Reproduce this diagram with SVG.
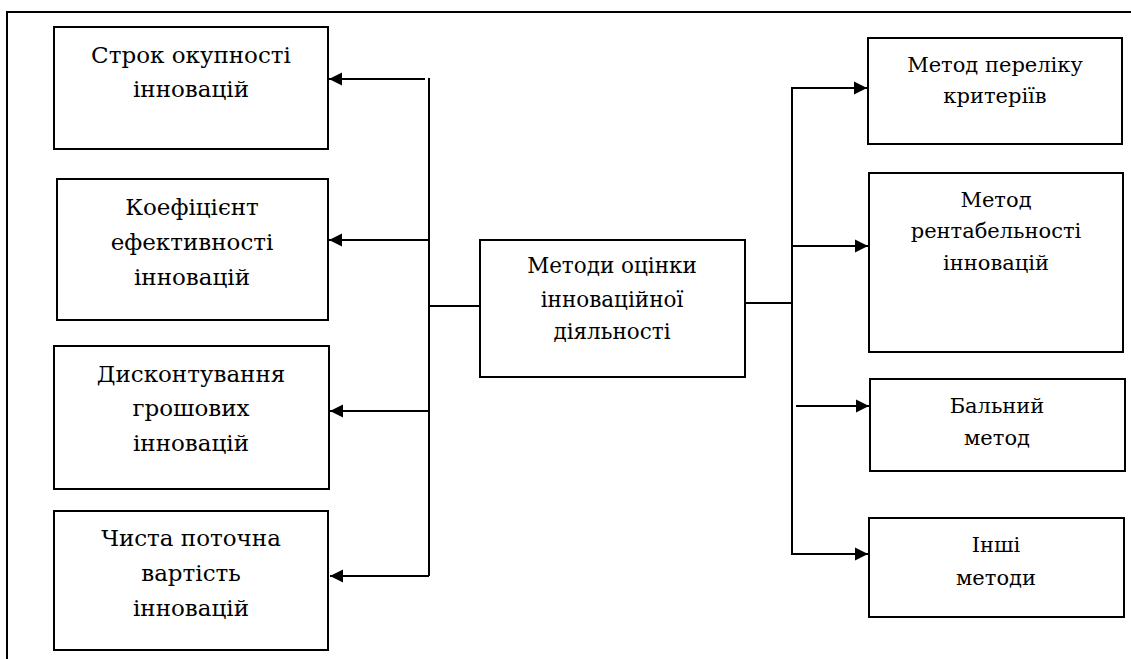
<svg xmlns="http://www.w3.org/2000/svg" width="1131" height="659" viewBox="0 0 1131 659">
<style>
.box{fill:#fff;stroke:#000;stroke-width:2}
.ln{fill:none;stroke:#000;stroke-width:2}
text{font-family:'DejaVu Serif',serif;fill:#000;text-anchor:middle}
.tl{font-size:23px}
.tr{font-size:21px}
.tc{font-size:21.5px}
</style>
<defs>
<marker id="ah" markerUnits="userSpaceOnUse" markerWidth="14" markerHeight="14" viewBox="0 0 14 14" refX="13" refY="7" orient="auto">
<path d="M0,0.5 L13,7 L0,13.5 Z" fill="#000"/>
</marker>
</defs>
<rect width="1131" height="659" fill="#fff"/>
<g id="frame"><path class="ln" d="M7,659 V12 H1131"/></g>
<g id="connectors">
<path class="ln" d="M429,78 V576"/>
<path class="ln" d="M425,79 H329" marker-end="url(#ah)"/>
<path class="ln" d="M429,240 H329" marker-end="url(#ah)"/>
<path class="ln" d="M429,411 H330" marker-end="url(#ah)"/>
<path class="ln" d="M429,576 H330" marker-end="url(#ah)"/>
<path class="ln" d="M429,306 H480"/>
<path class="ln" d="M745,303 H792"/>
<path class="ln" d="M792,87 V554"/>
<path class="ln" d="M793,88 H867" marker-end="url(#ah)"/>
<path class="ln" d="M792,246 H868" marker-end="url(#ah)"/>
<path class="ln" d="M796,406 H869" marker-end="url(#ah)"/>
<path class="ln" d="M791,554 H868" marker-end="url(#ah)"/>
</g>
<g id="n1"><rect class="box" x="54" y="27" width="274" height="122"/><text class="tl" x="191" y="63">Строк окупності</text><text class="tl" x="191" y="97">інновацій</text></g>
<g id="n2"><rect class="box" x="57" y="179" width="271" height="141"/><text class="tl" x="192" y="215">Коефіцієнт</text><text class="tl" x="192" y="250">ефективності</text><text class="tl" x="192" y="285">інновацій</text></g>
<g id="n3"><rect class="box" x="54" y="346" width="275" height="143"/><text class="tl" x="191" y="382">Дисконтування</text><text class="tl" x="191" y="416">грошових</text><text class="tl" x="191" y="451">інновацій</text></g>
<g id="n4"><rect class="box" x="54" y="511" width="274" height="139"/><text class="tl" x="191" y="546">Чиста поточна</text><text class="tl" x="191" y="581">вартість</text><text class="tl" x="191" y="616">інновацій</text></g>
<g id="center"><rect class="box" x="480" y="240" width="265" height="137"/><text class="tc" x="612" y="273">Методи оцінки</text><text class="tc" x="612" y="307">інноваційної</text><text class="tc" x="612" y="339">діяльності</text></g>
<g id="r1"><rect class="box" x="868" y="38" width="254" height="106"/><text class="tr" x="995" y="72">Метод переліку</text><text class="tr" x="995" y="103">критеріїв</text></g>
<g id="r2"><rect class="box" x="869" y="173" width="254" height="179"/><text class="tr" x="996" y="207">Метод</text><text class="tr" x="996" y="238">рентабельності</text><text class="tr" x="996" y="270">інновацій</text></g>
<g id="r3"><rect class="box" x="870" y="379" width="255" height="92"/><text class="tr" x="997" y="413">Бальний</text><text class="tr" x="997" y="445">метод</text></g>
<g id="r4"><rect class="box" x="869" y="518" width="255" height="99"/><text class="tr" x="996" y="552">Інші</text><text class="tr" x="996" y="585">методи</text></g>
</svg>
